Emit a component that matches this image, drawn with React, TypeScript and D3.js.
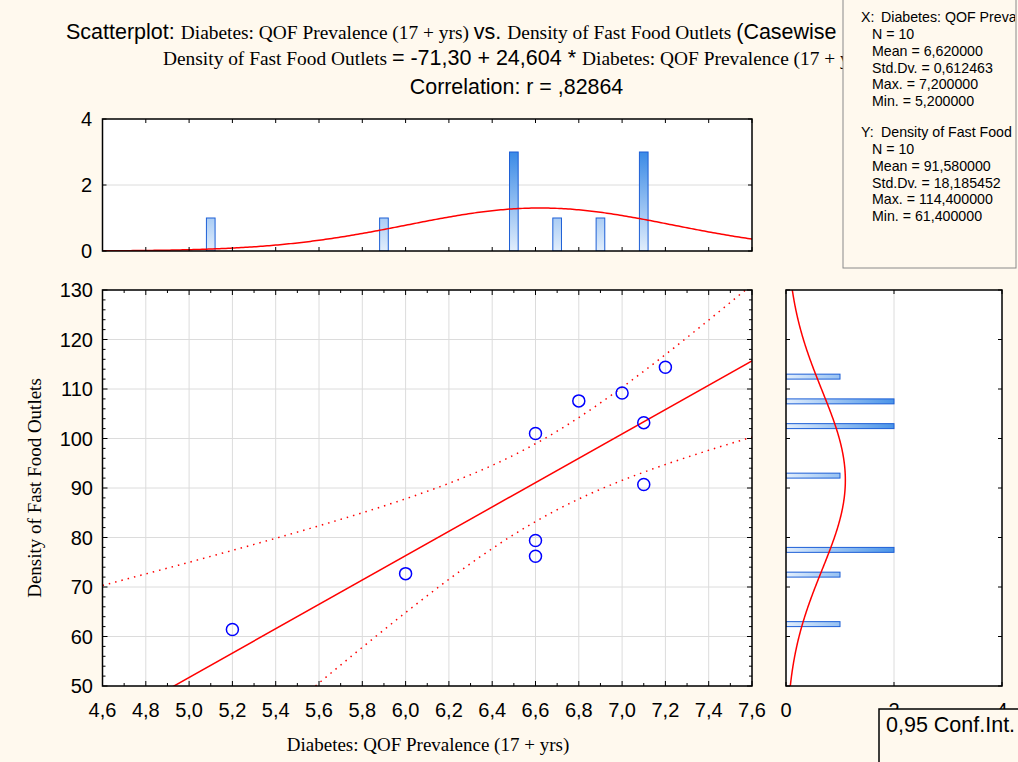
import React from "react";
import * as d3 from "d3";

// ---------- data ----------
const xValues = [5.2, 6.0, 6.6, 6.6, 6.6, 6.8, 7.0, 7.1, 7.1, 7.2];
const yValues = [61.4, 72.7, 101.0, 79.4, 76.2, 107.6, 109.2, 103.2, 90.7, 114.4];

const xBinCenters = [5.1, 5.9, 6.5, 6.7, 6.9, 7.1];
const xBinCounts = [1, 1, 3, 1, 1, 3];
const xBinWidth = 0.2;

const yBinCenters = [62.5, 72.5, 77.5, 92.5, 102.5, 107.5, 112.5];
const yBinCounts = [1, 1, 2, 1, 2, 2, 1];
const yBinWidth = 5;

const intercept = -71.3;
const slope = 24.604;
const confLevelT = 2.306; // t(0.975, 8)

const xTickValues = [4.6, 4.8, 5.0, 5.2, 5.4, 5.6, 5.8, 6.0, 6.2, 6.4, 6.6, 6.8, 7.0, 7.2, 7.4, 7.6];
const yTickValues = [50, 60, 70, 80, 90, 100, 110, 120, 130];
const histCountTicks = [0, 2, 4];

const statsX = ["N = 10", "Mean = 6,620000", "Std.Dv. = 0,612463", "Max. = 7,200000", "Min. = 5,200000"];
const statsY = ["N = 10", "Mean = 91,580000", "Std.Dv. = 18,185452", "Max. = 114,400000", "Min. = 61,400000"];

// ---------- layout ----------
const W = 1018, H = 762;
const M = { l: 102.5, r: 752, t: 290, b: 686 };
const TH = { t: 119, b: 251 };
const RH = { l: 786, r: 1002 };

const BG = "#FFF9EE";
const GRID = "#dcdcdc";
const SANS = "'Liberation Sans', Arial, sans-serif";
const SERIF = "'Liberation Serif', 'Times New Roman', serif";

const fmt1 = (v: number) => v.toFixed(1).replace(".", ",");

export default function App() {
  const x = d3.scaleLinear().domain([4.6, 7.6]).range([M.l, M.r]);
  const y = d3.scaleLinear().domain([50, 130]).range([M.b, M.t]);
  const yTop = d3.scaleLinear().domain([0, 4]).range([TH.b, TH.t]);
  const xRight = d3.scaleLinear().domain([0, 4]).range([RH.l, RH.r]);

  const n = xValues.length;
  const mx = d3.mean(xValues)!;
  const my = d3.mean(yValues)!;
  const sx = d3.deviation(xValues)!;
  const sy = d3.deviation(yValues)!;
  const sxx = d3.sum(xValues, (v) => (v - mx) ** 2);
  const resid = d3.sum(xValues.map((v, i) => (yValues[i] - (intercept + slope * v)) ** 2));
  const se = Math.sqrt(resid / (n - 2));

  const xs = d3.range(0, 301).map((i) => 4.6 + (i * 3) / 300);
  const regLine = d3.line<number>().x((v) => x(v)).y((v) => y(intercept + slope * v));
  const band = (sign: number) =>
    d3
      .line<number>()
      .x((v) => x(v))
      .y((v) => {
        const yh = intercept + slope * v;
        const h = confLevelT * se * Math.sqrt(1 / n + (v - mx) ** 2 / sxx);
        return y(yh + sign * h);
      })(xs);

  const pdf = (v: number, m: number, s: number) =>
    Math.exp(-0.5 * ((v - m) / s) ** 2) / (s * Math.sqrt(2 * Math.PI));
  const topCurve = d3
    .line<number>()
    .x((v) => x(v))
    .y((v) => yTop(n * xBinWidth * pdf(v, mx, sx)))(xs);
  const ys = d3.range(0, 301).map((i) => 50 + (i * 80) / 300);
  const rightCurve = d3
    .line<number>()
    .x((v) => xRight(n * yBinWidth * pdf(v, my, sy)))
    .y((v) => y(v))(ys);

  const xMinor = d3.range(0, 31).map((i) => 4.6 + i * 0.1);
  const yMinor = d3.range(0, 41).map((i) => 50 + i * 2);

  const topBarW = x(4.6 + xBinWidth * 0.2) - x(4.6);
  const rightBarH = y(50) - y(50 + yBinWidth * 0.2);

  return (
    <svg width={W} height={H} style={{ position: "absolute", left: 0, top: 0 }} fontFamily={SANS}>
      <defs>
        <linearGradient id="gTop" gradientUnits="userSpaceOnUse" x1={0} y1={yTop(0)} x2={0} y2={yTop(3)}>
          <stop offset="0" stopColor="#e2eefc" />
          <stop offset="1" stopColor="#3a8ae6" />
        </linearGradient>
        <linearGradient id="gRight" gradientUnits="userSpaceOnUse" x1={xRight(0)} y1={0} x2={xRight(2)} y2={0}>
          <stop offset="0" stopColor="#e2eefc" />
          <stop offset="1" stopColor="#4a94e8" />
        </linearGradient>
        <clipPath id="cMain">
          <rect x={M.l} y={M.t} width={M.r - M.l} height={M.b - M.t} />
        </clipPath>
        <clipPath id="cTop">
          <rect x={M.l} y={TH.t} width={M.r - M.l} height={TH.b - TH.t} />
        </clipPath>
        <clipPath id="cRight">
          <rect x={RH.l} y={M.t} width={RH.r - RH.l} height={M.b - M.t} />
        </clipPath>
        <clipPath id="cStats">
          <rect x={843} y={0} width={172} height={268} />
        </clipPath>
      </defs>
      <rect x={0} y={0} width={W} height={H} fill={BG} />

      {/* ---------- titles ---------- */}
      <text x={66} y={39} fontSize={21.5} fill="#000">
        <tspan fontFamily={SANS}>Scatterplot: </tspan>
        <tspan fontFamily={SERIF} fontSize={19.4}>Diabetes: QOF Prevalence (17 + yrs) </tspan>
        <tspan fontFamily={SANS}>vs. </tspan>
        <tspan fontFamily={SERIF} fontSize={19.4}>Density of Fast Food Outlets </tspan>
        <tspan fontFamily={SANS}>(Casewise MD deletion)</tspan>
      </text>
      <text x={163} y={65} fontSize={21.5} fill="#000">
        <tspan fontFamily={SERIF} fontSize={19.4}>Density of Fast Food Outlets </tspan>
        <tspan fontFamily={SANS}>= -71,30 + 24,604 * </tspan>
        <tspan fontFamily={SERIF} fontSize={19.4}>Diabetes: QOF Prevalence (17 + yrs)</tspan>
      </text>
      <text x={516.5} y={94} fontSize={21.4} textAnchor="middle" fill="#000">
        Correlation: r = ,82864
      </text>

      {/* ---------- top histogram ---------- */}
      <rect x={M.l} y={TH.t} width={M.r - M.l} height={TH.b - TH.t} fill="#fff" />
      <line x1={M.l} x2={M.r} y1={yTop(2)} y2={yTop(2)} stroke={GRID} strokeWidth={1} />
      <g clipPath="url(#cTop)">
        {xBinCenters.map((c, i) => (
          <rect
            key={i}
            x={x(c) - topBarW / 2}
            y={yTop(xBinCounts[i])}
            width={topBarW}
            height={yTop(0) - yTop(xBinCounts[i])}
            fill="url(#gTop)"
            stroke="#1d5fd6"
            strokeWidth={1}
          />
        ))}
        <path d={topCurve!} fill="none" stroke="#ff0000" strokeWidth={1.5} />
      </g>
      {xTickValues.map((v, i) => (
        <g key={i} stroke="#000" strokeWidth={1}>
          <line x1={x(v)} x2={x(v)} y1={TH.t} y2={TH.t + 4} />
          <line x1={x(v)} x2={x(v)} y1={TH.b} y2={TH.b - 4} />
        </g>
      ))}
      {histCountTicks.map((v) => (
        <g key={v}>
          <line x1={M.l} x2={M.l + 4} y1={yTop(v)} y2={yTop(v)} stroke="#000" />
          <line x1={M.r} x2={M.r - 4} y1={yTop(v)} y2={yTop(v)} stroke="#000" />
          <text x={92} y={yTop(v)} dy="0.36em" fontSize={20} textAnchor="end">
            {v}
          </text>
        </g>
      ))}
      <rect x={M.l} y={TH.t} width={M.r - M.l} height={TH.b - TH.t} fill="none" stroke="#000" strokeWidth={1.5} />

      {/* ---------- main scatter ---------- */}
      <rect x={M.l} y={M.t} width={M.r - M.l} height={M.b - M.t} fill="#fff" />
      {xTickValues.map((v, i) => (
        <line key={"gx" + i} x1={x(v)} x2={x(v)} y1={M.t} y2={M.b} stroke={GRID} />
      ))}
      {yTickValues.map((v) => (
        <line key={"gy" + v} x1={M.l} x2={M.r} y1={y(v)} y2={y(v)} stroke={GRID} />
      ))}
      <g clipPath="url(#cMain)">
        <path d={band(1)!} fill="none" stroke="#ff0000" strokeWidth={1.5} strokeDasharray="1.5,5" />
        <path d={band(-1)!} fill="none" stroke="#ff0000" strokeWidth={1.5} strokeDasharray="1.5,5" />
        <path d={regLine([4.6, 7.6])!} fill="none" stroke="#ff0000" strokeWidth={1.5} />
        {xValues.map((v, i) => (
          <circle key={i} cx={x(v)} cy={y(yValues[i])} r={6} fill="none" stroke="#0000ff" strokeWidth={1.5} />
        ))}
      </g>
      {xMinor.map((v, i) => {
        const len = i % 2 === 0 ? 5 : 3;
        return (
          <g key={"tx" + i} stroke="#000" strokeWidth={1}>
            <line x1={x(v)} x2={x(v)} y1={M.t} y2={M.t + len} />
            <line x1={x(v)} x2={x(v)} y1={M.b} y2={M.b - len} />
          </g>
        );
      })}
      {yMinor.map((v, i) => {
        const len = i % 5 === 0 ? 5 : 3;
        return (
          <g key={"ty" + i} stroke="#000" strokeWidth={1}>
            <line x1={M.l} x2={M.l + len} y1={y(v)} y2={y(v)} />
            <line x1={M.r} x2={M.r - len} y1={y(v)} y2={y(v)} />
          </g>
        );
      })}
      <rect x={M.l} y={M.t} width={M.r - M.l} height={M.b - M.t} fill="none" stroke="#000" strokeWidth={1.5} />
      {xTickValues.map((v, i) => (
        <text key={"lx" + i} x={x(v)} y={717} fontSize={20} textAnchor="middle">
          {fmt1(v)}
        </text>
      ))}
      {yTickValues.map((v) => (
        <text key={"ly" + v} x={93} y={y(v)} dy="0.36em" fontSize={20} textAnchor="end">
          {v}
        </text>
      ))}
      <text x={428} y={751} fontSize={19} fontFamily={SERIF} textAnchor="middle">
        Diabetes: QOF Prevalence (17 + yrs)
      </text>
      <text
        transform={`translate(41, ${(M.t + M.b) / 2}) rotate(-90)`}
        fontSize={19}
        fontFamily={SERIF}
        textAnchor="middle"
      >
        Density of Fast Food Outlets
      </text>

      {/* ---------- right histogram ---------- */}
      <rect x={RH.l} y={M.t} width={RH.r - RH.l} height={M.b - M.t} fill="#fff" />
      <line x1={xRight(2)} x2={xRight(2)} y1={M.t} y2={M.b} stroke={GRID} />
      <g clipPath="url(#cRight)">
        {yBinCenters.map((c, i) => (
          <rect
            key={i}
            x={xRight(0)}
            y={y(c) - rightBarH / 2}
            width={xRight(yBinCounts[i]) - xRight(0)}
            height={rightBarH}
            fill="url(#gRight)"
            stroke="#1d5fd6"
            strokeWidth={1}
          />
        ))}
        <path d={rightCurve!} fill="none" stroke="#ff0000" strokeWidth={1.5} />
      </g>
      {yTickValues.map((v) => (
        <g key={"rt" + v} stroke="#000">
          <line x1={RH.l} x2={RH.l + 4} y1={y(v)} y2={y(v)} />
          <line x1={RH.r} x2={RH.r - 4} y1={y(v)} y2={y(v)} />
        </g>
      ))}
      {histCountTicks.map((v) => (
        <g key={"rc" + v}>
          <line x1={xRight(v)} x2={xRight(v)} y1={M.t} y2={M.t + 4} stroke="#000" />
          <line x1={xRight(v)} x2={xRight(v)} y1={M.b} y2={M.b - 4} stroke="#000" />
          <text x={xRight(v)} y={717} fontSize={20} textAnchor="middle">
            {v}
          </text>
        </g>
      ))}
      <rect x={RH.l} y={M.t} width={RH.r - RH.l} height={M.b - M.t} fill="none" stroke="#000" strokeWidth={1.5} />

      {/* ---------- stats box ---------- */}
      <rect x={843} y={-2} width={173} height={270} fill={BG} stroke="#8a8a8a" strokeWidth={1} />
      <g clipPath="url(#cStats)" fontSize={14.2} fill="#000">
        <text x={861} y={22}>X:</text>
        <text x={881} y={22}>Diabetes: QOF Prevalence (17 + yrs)</text>
        {statsX.map((s, i) => (
          <text key={"sx" + i} x={872} y={39 + i * 16.8}>
            {s}
          </text>
        ))}
        <text x={861} y={137}>Y:</text>
        <text x={881} y={137}>Density of Fast Food Outlets</text>
        {statsY.map((s, i) => (
          <text key={"sy" + i} x={872} y={154 + i * 16.8}>
            {s}
          </text>
        ))}
      </g>

      {/* ---------- legend ---------- */}
      <rect x={879} y={709} width={160} height={70} fill={BG} stroke="#000" strokeWidth={1.5} />
      <text x={886} y={732} fontSize={21.5}>
        0,95 Conf.Int.
      </text>
    </svg>
  );
}
